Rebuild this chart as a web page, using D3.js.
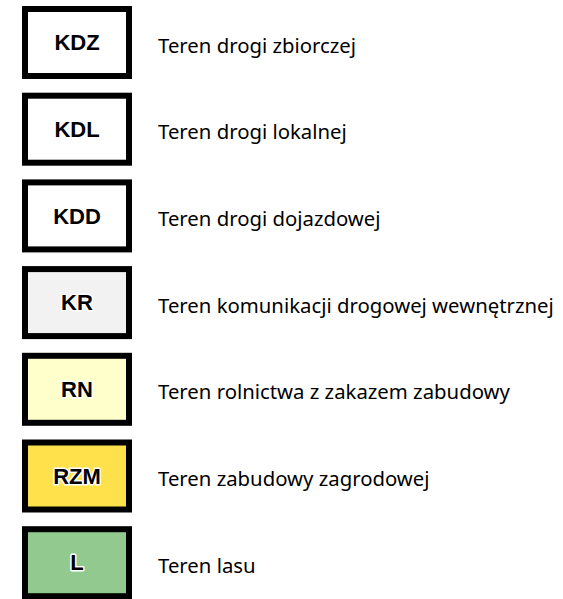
<!DOCTYPE html>
<html><head><meta charset="utf-8">
<script src="https://cdn.jsdelivr.net/npm/d3@7"></script>
<style>body{margin:0;background:#fff}</style>
</head><body><svg id="c" width="563" height="599"></svg>
<script>
const codes = ["KDZ","KDL","KDD","KR","RN","RZM","L"];
const labels = ["Teren drogi zbiorczej","Teren drogi lokalnej","Teren drogi dojazdowej","Teren komunikacji drogowej wewnętrznej","Teren rolnictwa z zakazem zabudowy","Teren zabudowy zagrodowej","Teren lasu"];
const fills = ["#ffffff","#ffffff","#ffffff","#f2f2f2","#ffffcc","#ffe14b","#92c98e"];

const svg = d3.select("#c");
const step = 86.7, boxH = 73;
const y = d3.scaleBand().domain(codes).range([6, 6 + step*6 + boxH]).paddingInner((step-boxH)/step).paddingOuter(0);
const g = svg.selectAll("g.item").data(codes).join("g").attr("class","item")
  .attr("transform", d => `translate(0,${y(d)})`);
const bw = y.bandwidth();
g.append("rect").attr("x",25).attr("y",3).attr("width",104).attr("height",bw-6)
  .attr("fill",(d,i)=>fills[i]).attr("stroke","#000").attr("stroke-width",6);
g.append("text").attr("x",77).attr("y",bw/2+7.8).attr("text-anchor","middle")
  .attr("font-family","Liberation Sans, Arial, sans-serif").attr("font-weight","bold").attr("font-size",22)
  .attr("stroke","#fff").attr("stroke-width",3).attr("paint-order","stroke").attr("stroke-linejoin","round")
  .attr("fill","#000").text(d=>d);
const t = g.append("text").attr("x",158).attr("y",bw/2+10)
  .attr("font-family","Noto Sans, DejaVu Sans, sans-serif").attr("font-size",17)
  .attr("fill","#000").text((d,i)=>labels[i]);
const longest = t.nodes()[3].getComputedTextLength();
const fs = 17*396/longest;
t.attr("font-size", fs);
</script></body></html>
